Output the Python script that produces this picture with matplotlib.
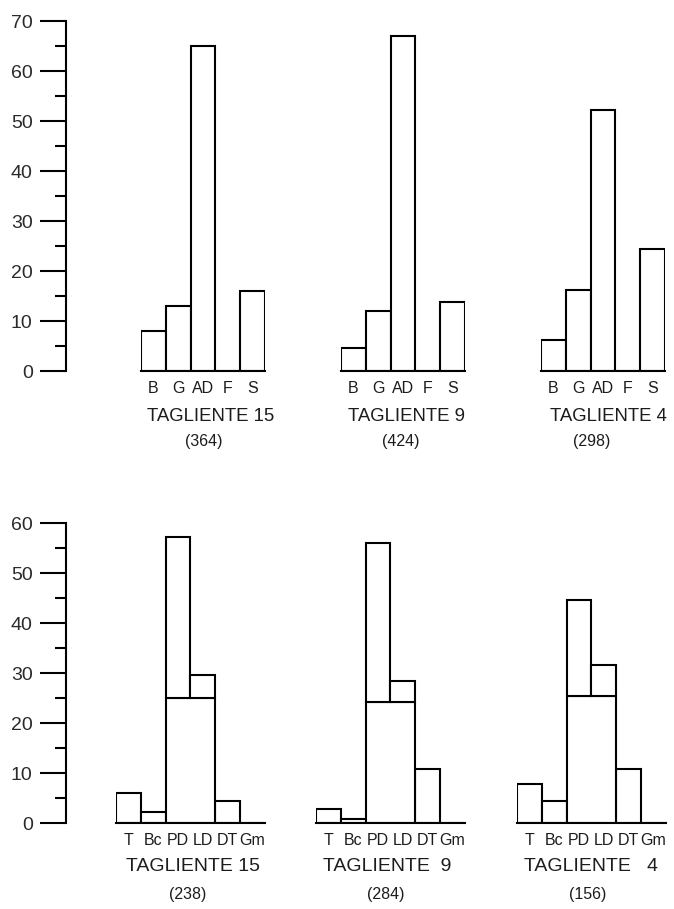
import matplotlib
matplotlib.use("Agg")
import matplotlib.pyplot as plt
from matplotlib.ticker import MultipleLocator

plt.rcParams["font.family"] = ["Liberation Sans", "DejaVu Sans"]

# ---- data: percentage frequencies per level ----
top_categories = ["B", "G", "AD", "F", "S"]
top_t15 = [8.0, 13.0, 65.0, 0.0, 16.0]
top_t9 = [4.7, 12.0, 67.0, 0.0, 13.8]
top_t4 = [6.2, 16.3, 52.3, 0.0, 24.5]
top_titles = ["TAGLIENTE 15", "TAGLIENTE 9", "TAGLIENTE 4"]
top_counts = ["(364)", "(424)", "(298)"]

bottom_categories = ["T", "Bc", "PD", "LD", "DT", "Gm"]
bottom_t15 = [6.1, 2.2, 57.2, 29.7, 4.4, 0.0]
bottom_t9 = [2.9, 0.9, 56.0, 28.5, 10.9, 0.0]
bottom_t4 = [7.9, 4.5, 44.7, 31.7, 10.9, 0.0]
# common lower block shared by PD and LD
bottom_pdld_base = [25.0, 24.2, 25.5]
bottom_titles = ["TAGLIENTE 15", "TAGLIENTE  9", "TAGLIENTE   4"]
bottom_counts = ["(238)", "(284)", "(156)"]

top_ticks = list(range(0, 71, 10))
bottom_ticks = list(range(0, 61, 10))

# ---- layout (pixels) ----
W, H, DPI = 674, 909, 100
fig = plt.figure(figsize=(W / DPI, H / DPI), dpi=DPI)
LW = 1.5
PX = 5.0          # pixels per percentage unit
BW = 24.8         # bar width in pixels
INK = "#1c1c1c"


def px_axes(left, top, width, height):
    return fig.add_axes([left / W, 1 - (top + height) / H, width / W, height / H])


def scale_axis(base_y, ymax, ticks):
    h = ymax * PX
    ax = px_axes(66, base_y - h, 0.5, h)
    ax.set_ylim(0, ymax)
    ax.set_xlim(0, 1)
    for s in ("top", "right", "bottom"):
        ax.spines[s].set_visible(False)
    ax.spines["left"].set_linewidth(LW)
    ax.set_xticks([])
    ax.set_yticks(ticks)
    ax.yaxis.set_minor_locator(MultipleLocator(5))
    ax.tick_params(axis="y", which="major", length=19, width=LW, pad=5,
                   labelsize=14, labelcolor="#2a2a2a")
    ax.tick_params(axis="y", which="minor", length=8, width=LW)
    ax.patch.set_visible(False)
    return ax


def group_axes(left, base_y, ymax, labels):
    n = len(labels)
    h = ymax * PX
    ax = px_axes(left, base_y - h, n * BW, h)
    ax.set_ylim(0, ymax)
    ax.set_xlim(-0.5, n - 0.5)
    for s in ax.spines.values():
        s.set_visible(False)
    ax.set_yticks([])
    ax.set_xticks(range(n))
    ax.set_xticklabels(labels, fontsize=11.5, color=INK)
    ax.tick_params(axis="x", length=0, pad=7)
    ax.axhline(0, color="black", lw=LW, clip_on=False)
    ax.patch.set_visible(False)
    return ax


bar_style = dict(width=1.0, facecolor="white", edgecolor="black", linewidth=LW)

# ---- top row ----
TOP_BASE = 371
scale_axis(TOP_BASE, 70, top_ticks)
top_lefts = [141, 341, 541]
top_series = [top_t15, top_t9, top_t4]
top_title_x = [211, 407, 608]
top_count_x = [204, 401, 592]
for left, vals, title, cnt, tx, cx in zip(top_lefts, top_series, top_titles,
                                          top_counts, top_title_x, top_count_x):
    ax = group_axes(left, TOP_BASE, 70, top_categories)
    ax.bar(range(len(vals)), vals, **bar_style)
    fig.text(tx / W, 1 - 416.5 / H, title, ha="center", va="center",
             fontsize=13.4, color=INK)
    fig.text(cx / W, 1 - 442 / H, cnt, ha="center", va="center",
             fontsize=11.5, color=INK)

# ---- bottom row ----
BOT_BASE = 823
scale_axis(BOT_BASE, 60, bottom_ticks)
bot_lefts = [116, 316, 517]
bot_series = [bottom_t15, bottom_t9, bottom_t4]
bot_title_x = [192.5, 387.5, 591.5]
bot_count_x = [188, 385.5, 588]
ipd = bottom_categories.index("PD")
ild = bottom_categories.index("LD")
for left, vals, base, title, cnt, tx, cx in zip(bot_lefts, bot_series,
                                                bottom_pdld_base, bottom_titles,
                                                bottom_counts, bot_title_x,
                                                bot_count_x):
    ax = group_axes(left, BOT_BASE, 60, bottom_categories)
    others = [i for i in range(len(vals)) if i not in (ipd, ild)]
    ax.bar(others, [vals[i] for i in others], **bar_style)
    # shared lower block spanning PD and LD
    ax.bar((ipd + ild) / 2, base, width=2.0, facecolor="white",
           edgecolor="black", linewidth=LW)
    # upper parts of PD and LD above the shared block
    ax.bar([ipd, ild], [vals[ipd] - base, vals[ild] - base], bottom=base,
           **bar_style)
    fig.text(tx / W, 1 - 866.5 / H, title, ha="center", va="center",
             fontsize=14, color=INK)
    fig.text(cx / W, 1 - 895 / H, cnt, ha="center", va="center",
             fontsize=11.5, color=INK)

fig.savefig("out.png", dpi=DPI, facecolor="white")
